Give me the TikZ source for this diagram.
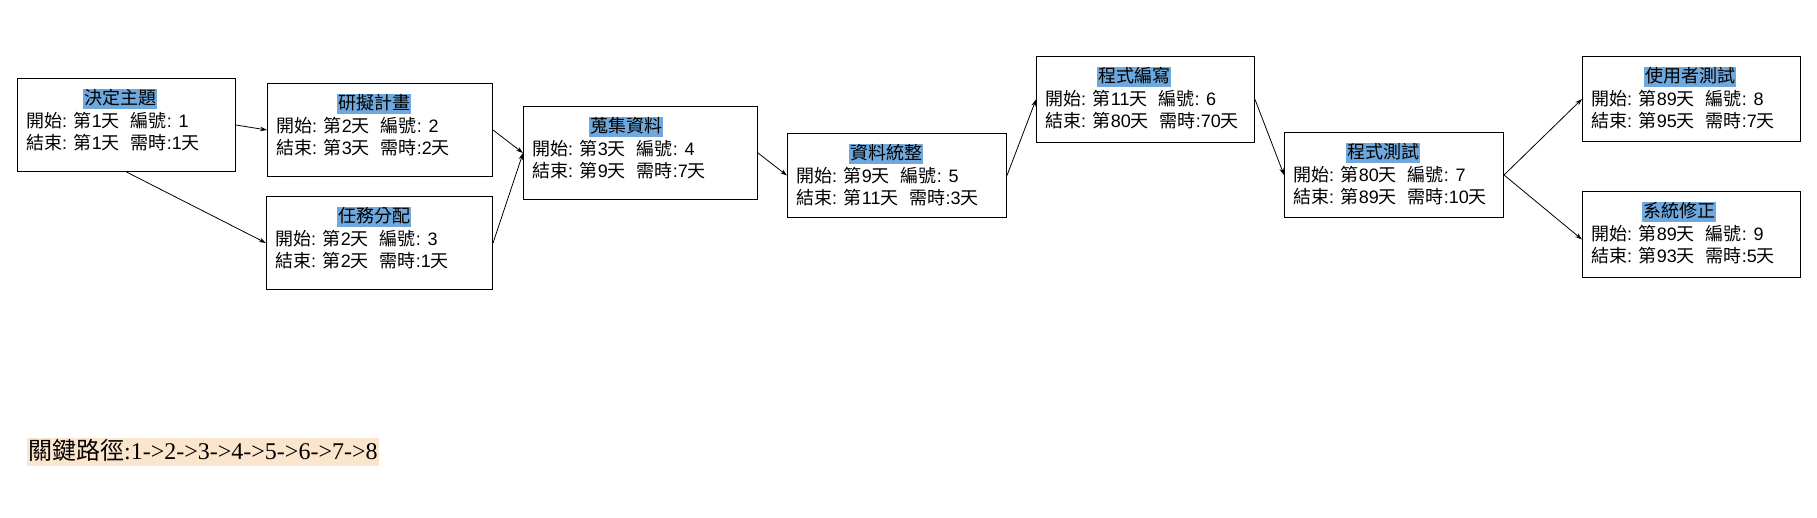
\documentclass[tikz,border=0pt]{standalone}
\usepackage{fontspec}
\setmainfont{Liberation Sans}
\newfontfamily\serifrm{Liberation Serif}
\newfontfamily\cjk{Noto Sans CJK TC}
\usetikzlibrary{arrows.meta}
\definecolor{hlblue}{HTML}{6FA8DC}
\definecolor{hlpeach}{HTML}{FCE5CD}
\newcommand\cj[1]{{\cjk #1}}
\newcommand\gap{\hspace{11pt}}
\newcommand\lineA[2]{\cj{開始}: \cj{第}#1\cj{天}\gap\cj{編號}: #2}
\newcommand\lineB[2]{\cj{結束}: \cj{第}#1\cj{天}\gap\cj{需時}:#2\cj{天}}
\tikzset{
  taskframe/.style={draw=black, line width=1pt, fill=white, inner sep=0pt},
  tasktitle/.style={fill=hlblue, font=\fontsize{18}{20}\selectfont\cjk, inner xsep=1pt, inner ysep=1pt, text height=14pt, text depth=4pt},
  taskline/.style={font=\fontsize{18}{20}\selectfont, inner sep=0pt, text height=14pt, text depth=4pt, anchor=west},
  conn/.style={line width=0.8pt, -{Stealth[length=7pt,width=4.5pt]}},
  pathnote/.style={fill=hlpeach, font=\fontsize{24}{28}\selectfont\serifrm, inner xsep=1pt, inner ysep=2pt, text height=19pt, text depth=5pt, anchor=west}
}
% #1 name, #2 left, #3 top, #4 width, #5 height, #6 title centre offset, #7 title, #8 line1, #9 line2
\newcommand\taskbox[9]{%
  \node[taskframe, anchor=north west, minimum width=#4pt, minimum height=#5pt] (#1) at (#2,#3) {};
  \node[tasktitle] (#1t) at ([xshift=#6pt, yshift=-21pt]#1.north west) {#7};
  \node[taskline] (#1a) at ([xshift=9pt, yshift=-44pt]#1.north west) {#8};
  \node[taskline] (#1b) at ([xshift=9pt, yshift=-66pt]#1.north west) {#9};
}
\begin{document}
\begin{tikzpicture}[x=1pt, y=-1pt]
\useasboundingbox (0,0) rectangle (1817,517);
\taskbox{t1}{17}{78}{218}{93}{103}{決定主題}{\lineA{1}{1}}{\lineB{1}{1}}
\taskbox{t2}{267}{83}{225}{93}{107}{研擬計畫}{\lineA{2}{2}}{\lineB{3}{2}}
\taskbox{t3}{266}{196}{226}{93}{108}{任務分配}{\lineA{2}{3}}{\lineB{2}{1}}
\taskbox{t4}{523}{106}{234}{93}{103}{蒐集資料}{\lineA{3}{4}}{\lineB{9}{7}}
\taskbox{t5}{787}{133}{219}{84}{99}{資料統整}{\lineA{9}{5}}{\lineB{11}{3}}
\taskbox{t6}{1036}{56}{218}{86}{98}{程式編寫}{\lineA{11}{6}}{\lineB{80}{70}}
\taskbox{t7}{1284}{132}{219}{85}{99}{程式測試}{\lineA{80}{7}}{\lineB{89}{10}}
\taskbox{t8}{1582}{56}{218}{85}{108}{使用者測試}{\lineA{89}{8}}{\lineB{95}{7}}
\taskbox{t9}{1582}{191}{218}{86}{97}{系統修正}{\lineA{89}{9}}{\lineB{93}{5}}
\draw[conn] (t1.east) -- (t2.west);
\draw[conn] (t1.south) -- (t3.west);
\draw[conn] (t2.east) -- (t4.west);
\draw[conn] (t3.east) -- (t4.west);
\draw[conn] (t4.east) -- (t5.west);
\draw[conn] (t5.east) -- (t6.west);
\draw[conn] (t6.east) -- (t7.west);
\draw[conn] (t7.east) -- (t8.west);
\draw[conn] (t7.east) -- ([yshift=-5pt]t9.west);
\node[pathnote] (cp) at (27,452) {\cj{關鍵路徑}:1->2->3->4->5->6->7->8};
\end{tikzpicture}
\end{document}
